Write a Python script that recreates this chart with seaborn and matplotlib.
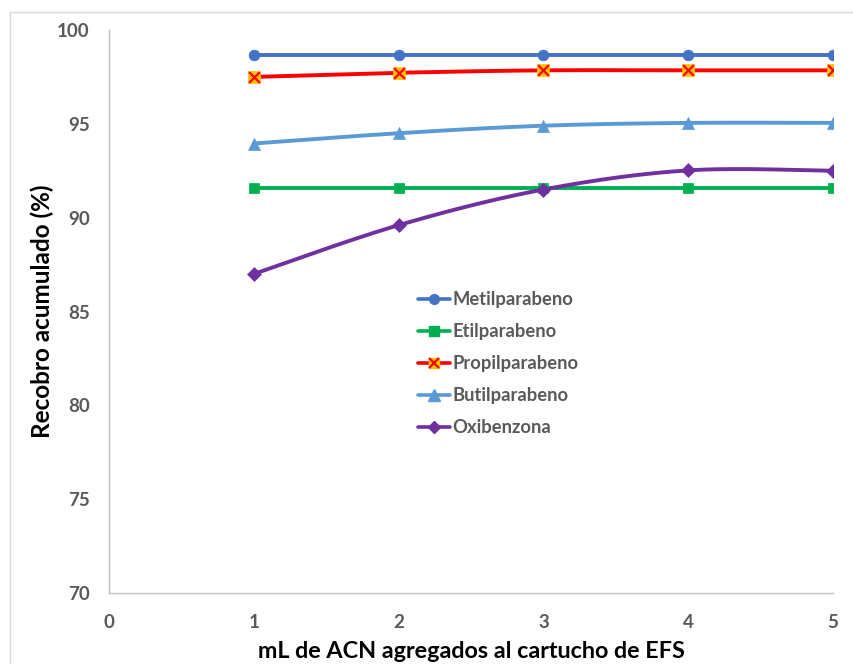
import numpy as np
import pandas as pd
import seaborn as sns
import matplotlib
matplotlib.use("Agg")
import matplotlib.pyplot as plt
from matplotlib.lines import Line2D
from matplotlib.legend_handler import HandlerTuple
from matplotlib.patches import Rectangle

# Recovered accumulated percentage per mL of acetonitrile
ml_acn = [1, 2, 3, 4, 5]
metilparabeno = [98.66, 98.66, 98.66, 98.66, 98.66]
etilparabeno = [91.6, 91.6, 91.6, 91.6, 91.6]
propilparabeno = [97.5, 97.72, 97.85, 97.85, 97.85]
butilparabeno = [93.95, 94.5, 94.9, 95.05, 95.05]
oxibenzona = [87.0, 89.6, 91.5, 92.52, 92.5]

series_names = ["Metilparabeno", "Etilparabeno", "Propilparabeno",
                "Butilparabeno", "Oxibenzona"]
series_values = [metilparabeno, etilparabeno, propilparabeno,
                 butilparabeno, oxibenzona]
x_ticks = [0, 1, 2, 3, 4, 5]
y_ticks = [70, 75, 80, 85, 90, 95, 100]

colors = {"Metilparabeno": "#4472C4", "Etilparabeno": "#00B050",
          "Propilparabeno": "#FF0000", "Butilparabeno": "#5B9BD5",
          "Oxibenzona": "#7030A0"}


def smooth(xs, ys, n=40):
    """Bezier smoothing through every point (Catmull-Rom style tangents)."""
    xs = np.asarray(xs, float)
    ys = np.asarray(ys, float)
    pts = np.column_stack([xs, ys])
    out = []
    for i in range(len(pts) - 1):
        p0 = pts[i - 1] if i > 0 else pts[i]
        p1 = pts[i]
        p2 = pts[i + 1]
        p3 = pts[i + 2] if i + 2 < len(pts) else pts[i + 1]
        c1 = p1 + (p2 - p0) / 6.0
        c2 = p2 - (p3 - p1) / 6.0
        t = np.linspace(0, 1, n, endpoint=(i == len(pts) - 2))[:, None]
        seg = ((1 - t) ** 3) * p1 + 3 * ((1 - t) ** 2) * t * c1 \
            + 3 * (1 - t) * t ** 2 * c2 + t ** 3 * p2
        out.append(seg)
    out = np.vstack(out)
    return out[:, 0], out[:, 1]


sns.set_theme(style="white")
plt.rcParams["font.family"] = ["Lato", "DejaVu Sans"]
plt.rcParams["font.weight"] = "bold"

fig = plt.figure(figsize=(8.54, 6.64), dpi=100)
ax = fig.add_axes([109 / 854, 1 - 593 / 664, (833 - 109) / 854, (593 - 30) / 664])

# outer chart frame
fig.patches.append(Rectangle((10 / 854, -0.1), 1.0, 1 - 12 / 664 + 0.1,
                             transform=fig.transFigure, fill=False,
                             edgecolor="#D9D9D9", linewidth=1.0, zorder=0))

# smoothed curves
rows = []
for name, vals in zip(series_names, series_values):
    sx, sy = smooth(ml_acn, vals)
    rows.append(pd.DataFrame({"ml": sx, "rec": sy, "serie": name}))
curves = pd.concat(rows, ignore_index=True)
sns.lineplot(data=curves, x="ml", y="rec", hue="serie", palette=colors,
             sort=False, estimator=None, units="serie", linewidth=2.8,
             legend=False, ax=ax, zorder=2)

# markers
pts = pd.DataFrame({"ml": np.tile(ml_acn, len(series_names)),
                    "rec": np.concatenate(series_values),
                    "serie": np.repeat(series_names, len(ml_acn))})
marker_spec = {"Metilparabeno": ("o", 60), "Etilparabeno": ("s", 55),
               "Butilparabeno": ("^", 75), "Oxibenzona": ("D", 50)}
for name, (m, s) in marker_spec.items():
    sub = pts[pts["serie"] == name]
    sns.scatterplot(data=sub, x="ml", y="rec", marker=m, s=s,
                    color=colors[name], edgecolor=colors[name], linewidth=0.5,
                    ax=ax, zorder=3, legend=False)
sub = pts[pts["serie"] == "Propilparabeno"]
sns.scatterplot(data=sub, x="ml", y="rec", marker="s", s=70, color="#FFC000",
                edgecolor="#FFC000", linewidth=0.5, ax=ax, zorder=3, legend=False)
sns.scatterplot(data=sub, x="ml", y="rec", marker="x", s=60, color="#FF0000",
                linewidth=1.6, ax=ax, zorder=4, legend=False)

ax.set_xlim(0, 5)
ax.set_ylim(70, 100)
ax.set_xticks(x_ticks)
ax.set_yticks(y_ticks)
ax.tick_params(axis="both", length=0, labelsize=13.5, labelcolor="#595959")
ax.tick_params(axis="y", pad=14)
ax.tick_params(axis="x", pad=15)
for lab in ax.get_xticklabels() + ax.get_yticklabels():
    lab.set_fontweight("bold")
ax.set_xlabel("mL de ACN agregados al cartucho de EFS", fontsize=16.8,
              fontweight="bold", color="black", labelpad=7)
ax.set_ylabel("Recobro acumulado (%)", fontsize=17.5, fontweight="bold",
              color="black", labelpad=2)
for side in ["top", "right"]:
    ax.spines[side].set_visible(False)
for side in ["left", "bottom"]:
    ax.spines[side].set_color("#BFBFBF")
    ax.spines[side].set_linewidth(1.0)
ax.grid(False)

# legend
handles = [
    Line2D([], [], color=colors["Metilparabeno"], lw=2.6, marker="o", markersize=7),
    Line2D([], [], color=colors["Etilparabeno"], lw=2.6, marker="s", markersize=6.5),
    (Line2D([], [], color=colors["Propilparabeno"], lw=2.6, marker="s", markersize=7.5,
            markerfacecolor="#FFC000", markeredgecolor="#FFC000"),
     Line2D([], [], color="none", lw=0, marker="x", markersize=7,
            markeredgecolor="#FF0000", markeredgewidth=1.6)),
    Line2D([], [], color=colors["Butilparabeno"], lw=2.6, marker="^", markersize=8),
    Line2D([], [], color=colors["Oxibenzona"], lw=2.6, marker="D", markersize=6.5),
]
leg = fig.legend(handles, series_names, loc="upper left",
                 bbox_to_anchor=(418 / 854, 1 - 291 / 664),
                 handler_map={tuple: HandlerTuple(ndivide=1, pad=0)},
                 frameon=False, fontsize=13.2, handlelength=1.75,
                 handletextpad=0.12, labelspacing=0.82, borderpad=0,
                 borderaxespad=0)
for t in leg.get_texts():
    t.set_color("#595959")
    t.set_fontweight("bold")

fig.savefig("out.png", dpi=100)
